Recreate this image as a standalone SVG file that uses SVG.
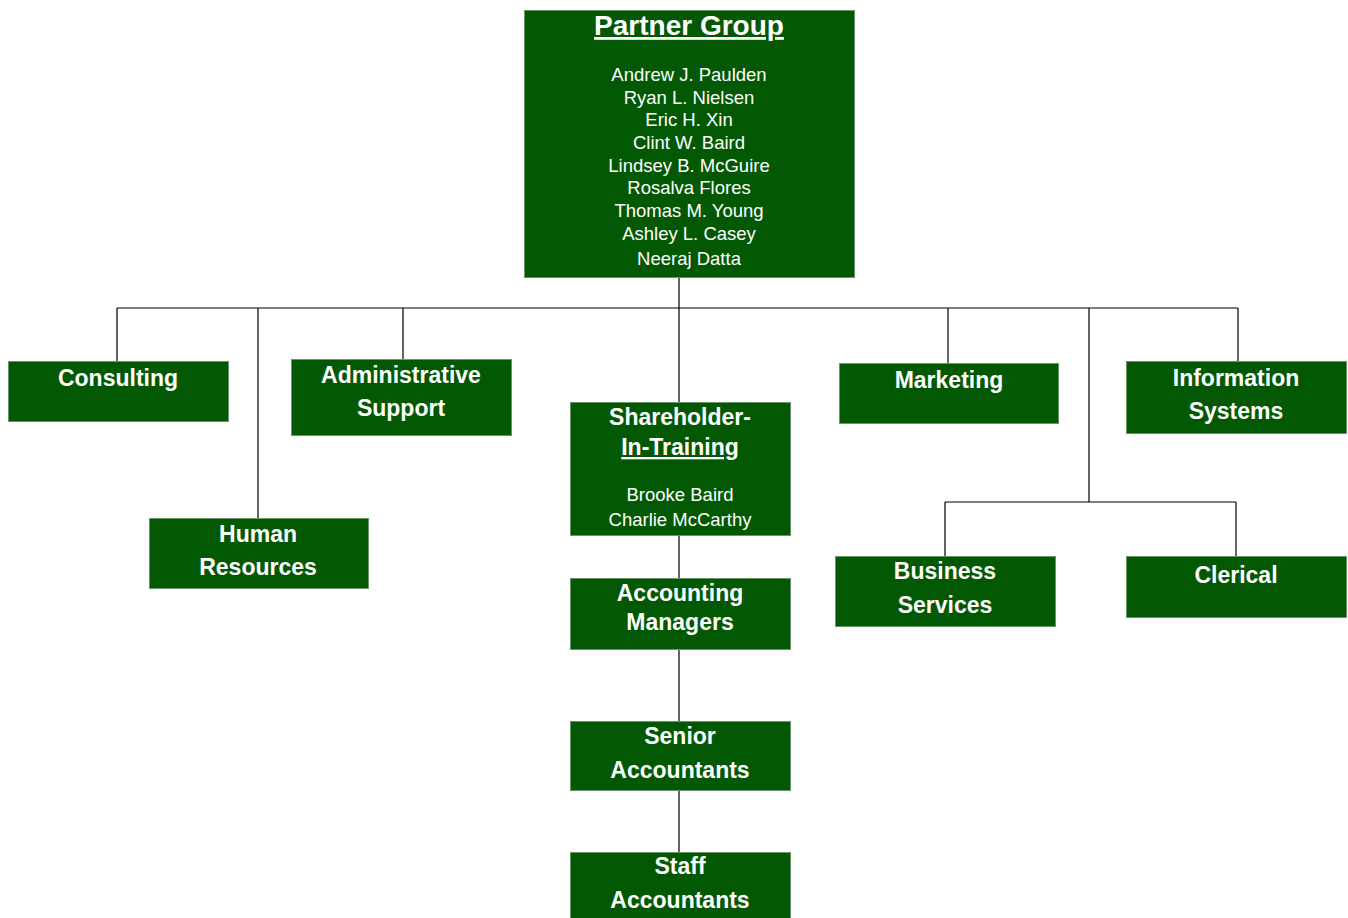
<svg xmlns="http://www.w3.org/2000/svg" width="1348" height="918" viewBox="0 0 1348 918">
<style>
.box{fill:#035903;stroke:#6a946a;stroke-width:1}
.t{font-family:"Liberation Sans",Arial,sans-serif;font-weight:bold;font-size:23px;fill:#ffffff;text-anchor:middle}
.n{font-family:"Liberation Sans",Arial,sans-serif;font-size:18.5px;fill:#ffffff;text-anchor:middle}
.c{stroke:#000;stroke-width:1.2;fill:none}
</style>
<rect width="1348" height="918" fill="#ffffff"/>
<g id="connectors">
<path class="c" d="M679 278V402M117 308H1238M117 308V361M258 308V518M403 308V359M948 308V363M1238 308V361M1089 308V502M945 502H1236M945 502V556M1236 502V556M679 536V578M679 650V721M679 791V852"/>
</g>
<g id="partner-group">
<rect class="box" x="524.5" y="10.5" width="330" height="267"/>
<text class="t" x="689" y="35" style="font-size:28px" text-decoration="underline">Partner Group</text>
<text class="n" x="689" y="81">Andrew J. Paulden</text>
<text class="n" x="689" y="104">Ryan L. Nielsen</text>
<text class="n" x="689" y="126">Eric H. Xin</text>
<text class="n" x="689" y="149">Clint W. Baird</text>
<text class="n" x="689" y="172">Lindsey B. McGuire</text>
<text class="n" x="689" y="194">Rosalva Flores</text>
<text class="n" x="689" y="217">Thomas M. Young</text>
<text class="n" x="689" y="240">Ashley L. Casey</text>
<text class="n" x="689" y="265">Neeraj Datta</text>
</g>
<g id="consulting">
<rect class="box" x="8.5" y="361.5" width="220" height="60"/>
<text class="t" x="118" y="386">Consulting</text>
</g>
<g id="administrative-support">
<rect class="box" x="291.5" y="359.5" width="220" height="76"/>
<text class="t" x="401" y="383">Administrative</text>
<text class="t" x="401" y="416">Support</text>
</g>
<g id="human-resources">
<rect class="box" x="149.5" y="518.5" width="219" height="70"/>
<text class="t" x="258" y="542">Human</text>
<text class="t" x="258" y="575">Resources</text>
</g>
<g id="shareholder-in-training">
<rect class="box" x="570.5" y="402.5" width="220" height="133"/>
<text class="t" x="680" y="425">Shareholder-</text>
<text class="t" x="680" y="455" text-decoration="underline">In-Training</text>
<text class="n" x="680" y="501">Brooke Baird</text>
<text class="n" x="680" y="526">Charlie McCarthy</text>
</g>
<g id="accounting-managers">
<rect class="box" x="570.5" y="578.5" width="220" height="71"/>
<text class="t" x="680" y="601">Accounting</text>
<text class="t" x="680" y="630">Managers</text>
</g>
<g id="senior-accountants">
<rect class="box" x="570.5" y="721.5" width="220" height="69"/>
<text class="t" x="680" y="744">Senior</text>
<text class="t" x="680" y="778">Accountants</text>
</g>
<g id="staff-accountants">
<rect class="box" x="570.5" y="852.5" width="220" height="75"/>
<text class="t" x="680" y="874">Staff</text>
<text class="t" x="680" y="908">Accountants</text>
</g>
<g id="marketing">
<rect class="box" x="839.5" y="363.5" width="219" height="60"/>
<text class="t" x="949" y="388">Marketing</text>
</g>
<g id="information-systems">
<rect class="box" x="1126.5" y="361.5" width="220" height="72"/>
<text class="t" x="1236" y="386">Information</text>
<text class="t" x="1236" y="419">Systems</text>
</g>
<g id="business-services">
<rect class="box" x="835.5" y="556.5" width="220" height="70"/>
<text class="t" x="945" y="579">Business</text>
<text class="t" x="945" y="613">Services</text>
</g>
<g id="clerical">
<rect class="box" x="1126.5" y="556.5" width="220" height="61"/>
<text class="t" x="1236" y="583">Clerical</text>
</g>
</svg>
